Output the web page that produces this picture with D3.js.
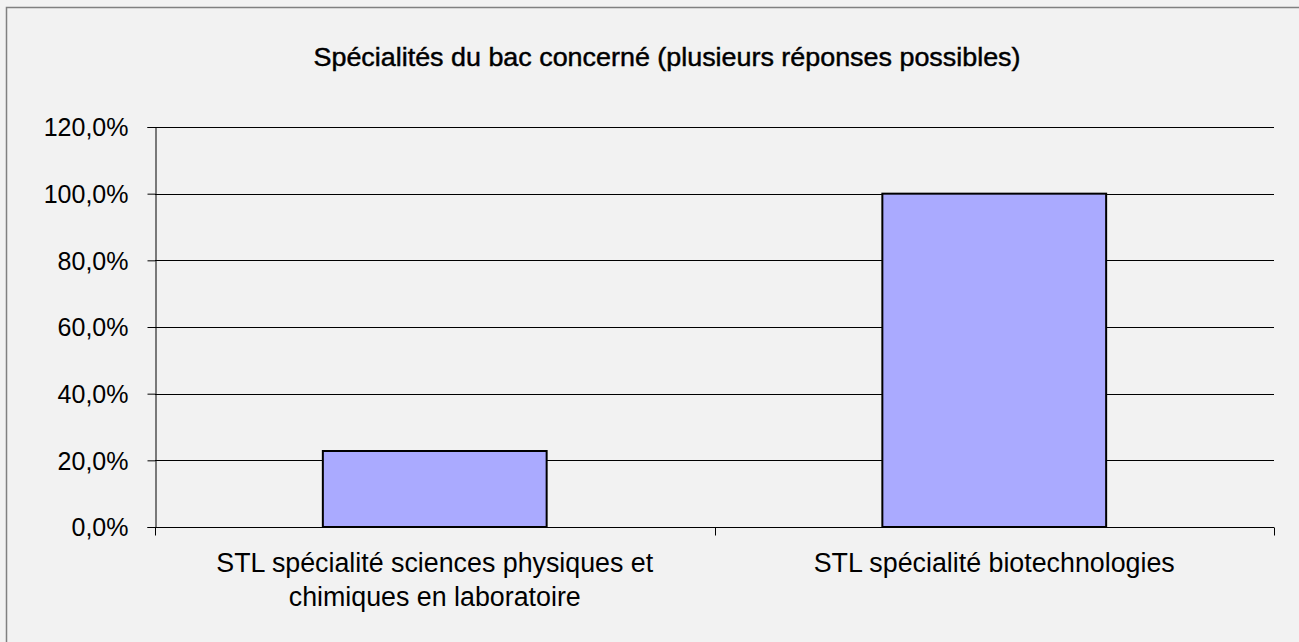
<!DOCTYPE html>
<html><head><meta charset="utf-8">
<script src="https://cdn.jsdelivr.net/npm/d3@7"></script>
<style>
html,body{margin:0;padding:0;background:#fff;}
svg{display:block;}
text{font-family:"Liberation Sans",Arial,sans-serif;fill:#000;}
</style></head>
<body>
<svg id="chart" width="1299" height="642"></svg>
<script>
const title = "Spécialités du bac concerné (plusieurs réponses possibles)";
const categories = [
  ["STL spécialité sciences physiques et", "chimiques en laboratoire"],
  ["STL spécialité biotechnologies"]
];
const values = [0.228, 1.0];
const yTicks = [0, 0.2, 0.4, 0.6, 0.8, 1.0, 1.2];

const svg = d3.select("#chart");
const W = 1299, H = 642;
const m = {left:155, right:1274, top:127, bottom:527};

svg.append("rect").attr("x",0).attr("y",0).attr("width",W).attr("height",H).attr("fill","#f2f2f2");
svg.append("rect").attr("x",6.5).attr("y",7.5).attr("width",W+20).attr("height",H+20)
  .attr("fill","#f2f2f2").attr("stroke","#808080").attr("stroke-width",1.5);

svg.append("text").attr("x",667).attr("y",66).attr("text-anchor","middle")
  .style("font-size","26px").style("stroke","#000").style("stroke-width",0.45)
  .attr("textLength",707).attr("lengthAdjust","spacingAndGlyphs")
  .text(title);

const x = d3.scaleBand().domain(d3.range(categories.length)).range([m.left,m.right]).paddingInner(0).paddingOuter(0);
const y = d3.scaleLinear().domain([0,1.2]).range([m.bottom,m.top]);
const fmt = v => d3.format(".1f")(v*100).replace(".",",") + "%";

// gridlines
svg.append("g").selectAll("line").data(yTicks.slice(1)).join("line")
  .attr("x1",m.left).attr("x2",m.right).attr("y1",d=>Math.round(y(d))+0.5).attr("y2",d=>Math.round(y(d))+0.5)
  .attr("stroke","#000").attr("stroke-width",1);

// y axis
const yAxis = svg.append("g").attr("transform",`translate(${m.left+0.5},0)`)
  .call(d3.axisLeft(y).tickValues(yTicks).tickFormat(fmt).tickSize(8).tickPadding(19));
yAxis.attr("font-size",null).attr("font-family",null);
yAxis.select(".domain").attr("stroke","#000");
yAxis.selectAll(".tick line").attr("stroke","#000");
yAxis.selectAll("text").style("font-size","25px").attr("dy","0.35em");

// bars
svg.append("g").selectAll("rect").data(values).join("rect")
  .attr("x",(d,i)=>x(i)+x.bandwidth()*0.3)
  .attr("width",x.bandwidth()*0.4)
  .attr("y",d=>y(d))
  .attr("height",d=>y(0)-y(d))
  .attr("fill","#aaaaff").attr("stroke","#000").attr("stroke-width",2);

// x axis
const xAxis = svg.append("g").attr("transform",`translate(0,${m.bottom+0.5})`);
xAxis.append("line").attr("x1",m.left).attr("x2",m.right).attr("stroke","#000");
const bounds = [m.left, ...categories.map((c,i)=>x(i)+x.bandwidth())];
xAxis.selectAll("line.tk").data(bounds).join("line").attr("class","tk")
  .attr("x1",d=>Math.round(d)+0.5).attr("x2",d=>Math.round(d)+0.5).attr("y1",0).attr("y2",8).attr("stroke","#000");

const lab = svg.append("g").selectAll("text").data(categories).join("text")
  .attr("text-anchor","middle").style("font-size","26.8px")
  .attr("x",(d,i)=>x(i)+x.bandwidth()/2).attr("y",572);
lab.selectAll("tspan").data(d=>d).join("tspan")
  .attr("x",function(){return this.parentNode.getAttribute("x");})
  .attr("dy",(d,i)=>i===0?0:34).text(d=>d);
</script>
</body></html>
